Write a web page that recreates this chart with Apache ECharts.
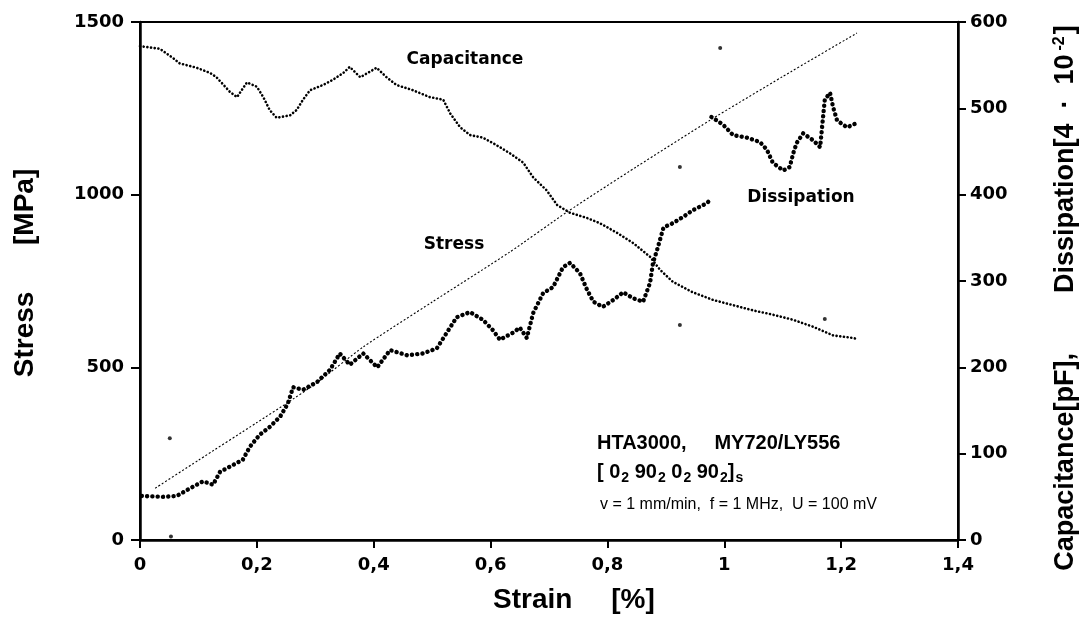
<!DOCTYPE html>
<html>
<head>
<meta charset="utf-8">
<script src="https://cdn.jsdelivr.net/npm/echarts@6/dist/echarts.min.js"></script>
<style>
  html, body { margin: 0; padding: 0; background: #fff; }
  #main { width: 1083px; height: 632px; }
</style>
</head>
<body>
<div id="main"></div>
<script>
// strain [%] -> stress [MPa]
var stressStrain = [0.026, 0.1, 0.2, 0.252, 0.3, 0.382, 0.5, 0.633, 0.731, 0.85, 0.976, 1.1, 1.227];
var stressVal    = [150, 231, 340, 397, 452, 559, 689, 834, 950, 1081, 1216, 1342, 1468];

// capacitance [pF] (right axis)
var capStrain = [0, 0.034, 0.057, 0.068, 0.097, 0.12, 0.131, 0.154, 0.166, 0.183, 0.2, 0.211, 0.222, 0.234,
  0.257, 0.268, 0.279, 0.291, 0.313, 0.33, 0.348, 0.359, 0.377, 0.405, 0.422, 0.439, 0.467, 0.496, 0.519,
  0.531, 0.548, 0.565, 0.587, 0.611, 0.633, 0.656, 0.673, 0.696, 0.714, 0.736, 0.765, 0.787, 0.816, 0.844,
  0.873, 0.89, 0.912, 0.946, 0.981, 1.015, 1.049, 1.083, 1.118, 1.152, 1.186, 1.22, 1.227];
var capVal = [572, 569, 558, 552, 547, 541, 536, 519, 513, 530, 525, 513, 498, 489,
  492, 498, 510, 521, 527, 533, 541, 548, 536, 547, 536, 527, 521, 513, 510,
  494, 478, 469, 466, 457, 448, 437, 420, 405, 388, 379, 373, 367, 356, 344,
  328, 313, 299, 287, 278, 272, 266, 261, 255, 247, 237, 234, 233];

// dissipation [4*10^-2] (right axis), jumps at ~0.977
var disStrain = [0.003, 0.039, 0.063, 0.086, 0.108, 0.125, 0.137, 0.154, 0.176, 0.188, 0.205, 0.222, 0.24,
  0.253, 0.262, 0.279, 0.303, 0.325, 0.342, 0.359, 0.382, 0.406, 0.428, 0.457, 0.484, 0.508, 0.525, 0.542,
  0.565, 0.587, 0.604, 0.616, 0.638, 0.65, 0.662, 0.673, 0.69, 0.707, 0.724, 0.736, 0.753, 0.765, 0.776,
  0.792, 0.81, 0.827, 0.844, 0.861, 0.873, 0.878, 0.885, 0.896, 0.912, 0.929, 0.946, 0.97, 0.976,
  0.977,
  0.978, 0.998, 1.015, 1.039, 1.061, 1.073, 1.083, 1.101, 1.112, 1.118, 1.124, 1.135, 1.152, 1.164,
  1.172, 1.181, 1.186, 1.193, 1.21, 1.227];
var disVal = [51, 50, 51, 60, 68, 64, 79, 85, 93, 108, 122, 131, 143,
  158, 177, 174, 183, 197, 216, 203, 216, 200, 220, 214, 216, 222, 240, 258,
  264, 255, 243, 232, 240, 246, 234, 263, 286, 293, 316, 321, 309, 290, 276,
  270, 278, 287, 280, 276, 298, 321, 336, 362, 367, 374, 382, 390, 394,
  '-',
  490, 481, 469, 466, 461, 452, 437, 428, 432, 448, 460, 471, 463, 455,
  510, 518, 502, 486, 478, 483];

// stray points (right axis)
var strayStrain = [0.051, 0.053, 0.924, 0.924, 0.993, 1.172];
var strayVal    = [118, 4, 432, 249, 570, 256];

function pairs(xs, ys) {
  var out = [];
  for (var i = 0; i < xs.length; i++) out.push([xs[i], ys[i]]);
  return out;
}

var myChart = echarts.init(document.getElementById('main'));

var tickFont = { color: '#000', fontFamily: 'DejaVu Sans', fontWeight: 'bold', fontSize: 18 };

var option = {
  backgroundColor: '#fff',
  animation: false,
  grid: {
    left: 140, right: 125, top: 22, bottom: 92,
    show: true, borderColor: '#000', borderWidth: 2
  },
  xAxis: {
    type: 'value', min: 0, max: 1.4, interval: 0.2,
    axisLine: { show: true, onZero: false, lineStyle: { color: '#000', width: 2.5 } },
    axisTick: { show: true, inside: false, length: 8, lineStyle: { color: '#000', width: 2 } },
    splitLine: { show: false },
    axisLabel: Object.assign({
      margin: 16,
      formatter: function (v) {
        return String(+v.toFixed(1)).replace('.', ',');
      }
    }, tickFont)
  },
  yAxis: [{
    type: 'value', min: 0, max: 1500, interval: 500, position: 'left',
    axisLine: { show: true, onZero: false, lineStyle: { color: '#000', width: 2.5 } },
    axisTick: { show: true, inside: false, length: 9, lineStyle: { color: '#000', width: 2 } },
    splitLine: { show: false },
    axisLabel: Object.assign({ margin: 16, formatter: function (v) { return String(v); } }, tickFont)
  }, {
    type: 'value', min: 0, max: 600, interval: 100, position: 'right',
    axisLine: { show: true, onZero: false, lineStyle: { color: '#000', width: 2.5 } },
    axisTick: { show: true, inside: false, length: 8, lineStyle: { color: '#000', width: 2 } },
    splitLine: { show: false },
    axisLabel: Object.assign({ margin: 12, formatter: function (v) { return String(v); } }, tickFont)
  }],
  series: [{
    name: 'Stress',
    type: 'line',
    yAxisIndex: 0,
    data: pairs(stressStrain, stressVal),
    showSymbol: false,
    smooth: 0.2,
    lineStyle: { color: '#000', width: 1.1, type: [2, 2] },
    z: 3
  }, {
    name: 'Capacitance',
    type: 'line',
    yAxisIndex: 1,
    data: pairs(capStrain, capVal),
    showSymbol: false,
    lineStyle: { color: '#000', width: 2.6, type: [0.1, 3.6], cap: 'round' },
    z: 4
  }, {
    name: 'Dissipation',
    type: 'line',
    yAxisIndex: 1,
    data: pairs(disStrain, disVal),
    showSymbol: false,
    connectNulls: false,
    lineStyle: { color: '#000', width: 4.4, type: [0.1, 5.2], cap: 'round' },
    z: 5
  }, {
    name: 'stray',
    type: 'scatter',
    yAxisIndex: 1,
    data: pairs(strayStrain, strayVal),
    symbolSize: 4,
    itemStyle: { color: '#000' },
    z: 6
  }],
  graphic: [
    // axis titles
    { type: 'text', left: 493, top: 586,
      style: { text: 'Strain     [%]', fill: '#000', font: 'bold 28px "Liberation Sans"' } },
    { type: 'text', x: 25, y: 273, rotation: Math.PI / 2,
      style: { text: 'Stress      [MPa]', fill: '#000', font: 'bold 28px "Liberation Sans"',
        align: 'center', verticalAlign: 'middle' } },
    { type: 'text', x: 1066, y: 298, rotation: Math.PI / 2,
      style: {
        text: '{b|Capacitance[pF],        Dissipation[4  ·  10}{sup|-2}{b|]}',
        align: 'center', verticalAlign: 'middle',
        rich: {
          b: { fill: '#000', fontFamily: 'Liberation Sans', fontWeight: 'bold', fontSize: 27 },
          sup: { fill: '#000', fontFamily: 'Liberation Sans', fontWeight: 'bold', fontSize: 16, padding: [0, 2, 13, 4] }
        }
      } },
    // curve labels
    { type: 'text', x: 465, y: 60,
      style: { text: 'Capacitance', fill: '#000', font: 'bold 17px "DejaVu Sans"', align: 'center', verticalAlign: 'middle' } },
    { type: 'text', x: 454, y: 245,
      style: { text: 'Stress', fill: '#000', font: 'bold 17px "DejaVu Sans"', align: 'center', verticalAlign: 'middle' } },
    { type: 'text', x: 801, y: 198,
      style: { text: 'Dissipation', fill: '#000', font: 'bold 17px "DejaVu Sans"', align: 'center', verticalAlign: 'middle' } },
    // specimen info
    { type: 'text', x: 597, y: 443,
      style: { text: 'HTA3000,     MY720/LY556', fill: '#000', font: 'bold 20px "Liberation Sans"', verticalAlign: 'middle' } },
    { type: 'text', x: 597, y: 472,
      style: {
        text: '{b|[ 0}{s|2}{b| 90}{s|2}{b| 0}{s|2}{b| 90}{s|2}{b|]}{s|s}',
        verticalAlign: 'middle',
        rich: {
          b: { fill: '#000', fontFamily: 'Liberation Sans', fontWeight: 'bold', fontSize: 20 },
          s: { fill: '#000', fontFamily: 'Liberation Sans', fontWeight: 'bold', fontSize: 14, padding: [12, 0, 0, 1] }
        }
      } },
    { type: 'text', x: 600, y: 505,
      style: { text: 'v = 1 mm/min,  f = 1 MHz,  U = 100 mV', fill: '#000', font: '500 16px "Liberation Sans"', verticalAlign: 'middle' } }
  ]
};

myChart.setOption(option);
window.addEventListener('resize', function () {
  myChart.resize();
});
</script>
</body>
</html>
